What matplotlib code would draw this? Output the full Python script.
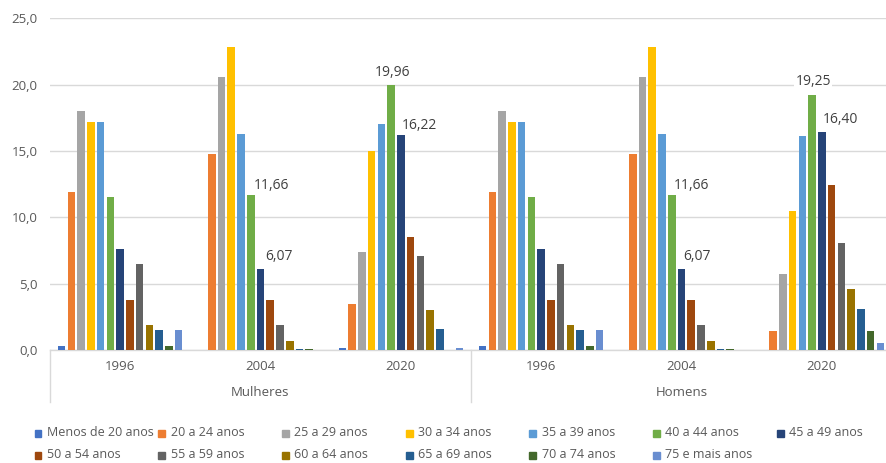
import matplotlib
matplotlib.use("Agg")
import matplotlib.pyplot as plt
from matplotlib.patches import Rectangle
import numpy as np

plt.rcParams['font.family'] = ['Open Sans', 'DejaVu Sans']

age_groups = ["Menos de 20 anos", "20 a 24 anos", "25 a 29 anos", "30 a 34 anos",
              "35 a 39 anos", "40 a 44 anos", "45 a 49 anos", "50 a 54 anos",
              "55 a 59 anos", "60 a 64 anos", "65 a 69 anos", "70 a 74 anos",
              "75 e mais anos"]
colors = ["#4472C4", "#ED7D31", "#A5A5A5", "#FFC000", "#5B9BD5", "#70AD47",
          "#264478", "#9E480E", "#636363", "#997300", "#255E91", "#43682B",
          "#698ED0"]
years = ["1996", "2004", "2020"]
sexes = ["Mulheres", "Homens"]

mulheres_1996 = [0.3, 11.9, 18.0, 17.2, 17.2, 11.5, 7.6, 3.8, 6.5, 1.9, 1.5, 0.3, 1.5]
mulheres_2004 = [0.0, 14.8, 20.6, 22.8, 16.3, 11.66, 6.07, 3.8, 1.9, 0.7, 0.1, 0.1, 0.0]
mulheres_2020 = [0.15, 3.5, 7.4, 15.0, 17.0, 19.96, 16.22, 8.5, 7.1, 3.0, 1.6, 0.0, 0.15]
homens_1996 = [0.3, 11.9, 18.0, 17.2, 17.2, 11.5, 7.6, 3.8, 6.5, 1.9, 1.5, 0.3, 1.5]
homens_2004 = [0.0, 14.8, 20.6, 22.8, 16.3, 11.66, 6.07, 3.8, 1.9, 0.7, 0.1, 0.1, 0.0]
homens_2020 = [0.0, 1.4, 5.7, 10.5, 16.1, 19.25, 16.40, 12.4, 8.1, 4.6, 3.1, 1.4, 0.5]

groups = [mulheres_1996, mulheres_2004, mulheres_2020,
          homens_1996, homens_2004, homens_2020]

# labelled bars: (group index, age index, label, offset px)
labelled = [(1, 5, "11,66", (21, 10)), (1, 6, "6,07", (18, 13)),
            (2, 5, "19,96", (1, 13)), (2, 6, "16,22", (19, 9)),
            (4, 5, "11,66", (20, 10)), (4, 6, "6,07", (16, 13)),
            (5, 5, "19,25", (1, 13)), (5, 6, "16,40", (19, 13))]

W, H = 887, 463
fig = plt.figure(figsize=(W / 100, H / 100), dpi=100)
ax = fig.add_axes([50 / W, (H - 350) / H, 842 / W, (350 - 18.3) / H])

data = np.array(groups)  # shape (6, 13)
x = np.arange(len(groups))
step = 0.0695
width = 0.054
n = len(age_groups)
for i in range(n):
    ax.bar(x + (i - (n - 1) / 2) * step, data[:, i], width=width,
           color=colors[i], zorder=3)

for g, a, txt, (dx, dy) in labelled:
    ax.annotate(txt, xy=(g + (a - (n - 1) / 2) * step, data[g, a]),
                xytext=(dx, dy), textcoords='offset pixels',
                ha='center', va='center', fontsize=10, color='#404040',
                bbox=dict(boxstyle='square,pad=0.1', fc='white', ec='none'),
                zorder=5)

ax.set_xlim(-0.5, 5.5)
ax.set_ylim(0, 25)
ax.set_yticks(np.arange(0, 26, 5))
ax.set_yticklabels([f"{v:.1f}".replace('.', ',') for v in np.arange(0, 26, 5)])
ax.tick_params(axis='y', length=0, pad=9, labelsize=9.5, labelcolor='#595959')
ax.set_xticks([])
for s in ax.spines.values():
    s.set_visible(False)
ax.yaxis.grid(True, color='#D9D9D9', linewidth=1, zorder=0)
ax.set_axisbelow(True)
ax.axhline(0, color='#D9D9D9', linewidth=1, zorder=2, clip_on=False)

trans = ax.get_xaxis_transform()
ah = 350 - 18.3
for i in range(len(groups)):
    ax.text(i, -16 / ah, years[i % 3], transform=trans, ha='center', va='center',
            fontsize=9.5, color='#595959')
for j, s in enumerate(sexes):
    ax.text(1 + 3 * j, -43 / ah, s, transform=trans, ha='center', va='center',
            fontsize=9.5, color='#595959')
for xv in [-0.5, 2.5]:
    ax.plot([xv, xv], [0, -52 / ah], transform=trans, color='#D9D9D9',
            linewidth=1, clip_on=False)

# legend
for i, (lab, c) in enumerate(zip(age_groups, colors)):
    col, row = i % 7, i // 7
    cx = 38 + col * 123.7
    cy = 433 + row * 22
    fig.add_artist(Rectangle(((cx - 3.5) / W, (H - cy - 3.5) / H), 7 / W, 7 / H,
                             transform=fig.transFigure, color=c))
    fig.text((cx + 9) / W, (H - cy) / H, lab, ha='left', va='center',
             fontsize=9, color='#595959')

fig.savefig("out.png", dpi=100)
